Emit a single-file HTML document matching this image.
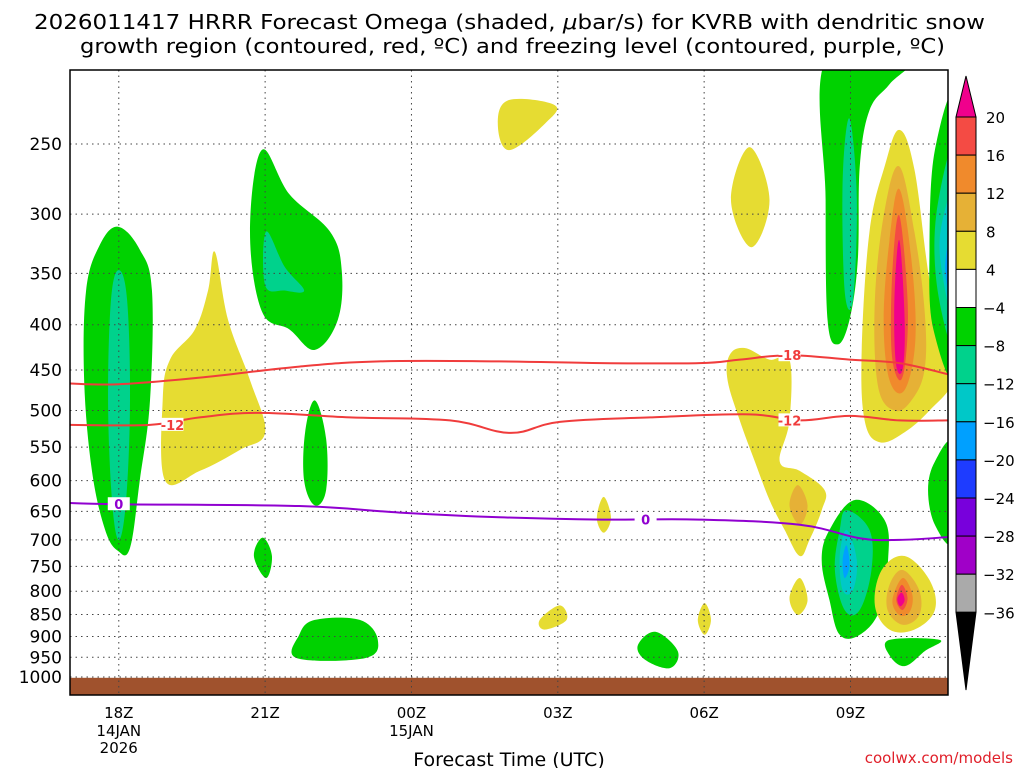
<!DOCTYPE html>
<html><head><meta charset="utf-8"><style>
body{margin:0;background:#fff;width:1024px;height:768px;overflow:hidden;font-family:"DejaVu Sans","Liberation Sans",sans-serif}
svg text{font-family:"DejaVu Sans","Liberation Sans",sans-serif}
</style></head><body>
<svg id="c" width="1024" height="768">
<text x="34" y="29" font-size="20" textLength="951" lengthAdjust="spacingAndGlyphs">2026011417 HRRR Forecast Omega (shaded, <tspan font-style="italic">μ</tspan>bar/s) for KVRB with dendritic snow</text>
<text x="80" y="53" font-size="20" textLength="865" lengthAdjust="spacingAndGlyphs">growth region (contoured, red, ºC) and freezing level (contoured, purple, ºC)</text>
<defs><clipPath id="pc"><rect x="70" y="70" width="878" height="625"/></clipPath></defs>
<g id="plot" clip-path="url(#pc)"></g>
<g id="axes"></g>
<g id="cbar"></g>
<text x="509" y="766" text-anchor="middle" font-size="19">Forecast Time (UTC)</text>
<text x="1013" y="763" text-anchor="end" font-size="15" fill="#e0202a">coolwx.com/models</text>
</svg>
<script>
const pTicks=[250,300,350,400,450,500,550,600,650,700,750,800,850,900,950,1000];
const xTickHours=[18,21,24,27,30,33];
const xTickLabels=["18Z","21Z","00Z","03Z","06Z","09Z"];
const xTickSub=[["14JAN","2026"],[],["15JAN"],[],[],[]];
const cbLevels=["20","16","12","8","4","−4","−8","−12","−16","−20","−24","−28","−32","−36"];
const cbColors=["#f44b44","#f08a2c","#e6b136","#e6dc32","#ffffff","#00d200","#00d28c","#00c8c8","#00a0ff","#1e3cff","#7800dc","#a000c8","#aaaaaa"];
function colorFor(v){
 if(v>=20)return "#f0008c"; const i=[16,12,8,4,-4,-8,-12,-16,-20,-24,-28,-32,-36].findIndex(t=>v>=t); return cbColors[i<0?12:i];}
const blobs=[
[-6,[[17.98,310],[18.43,329],[18.68,366],[18.64,487],[18.43,600],[18.23,715],[17.98,720],[17.72,682],[17.45,585],[17.29,462],[17.33,366],[17.6,326]]],
[-10,[[18.0,347],[18.17,375],[18.23,487],[18.15,631],[18.0,700],[17.86,631],[17.78,487],[17.84,375]]],
[6,[[19.97,331],[20.24,395],[20.69,462],[21.0,529],[20.48,554],[19.66,585],[18.95,600],[18.9,487],[19.05,438],[19.56,405],[19.83,366]]],
[-6,[[20.93,254],[21.5,285],[22.33,314],[22.57,347],[22.49,395],[22.02,427],[21.5,405],[20.93,386],[20.69,314]]],
[-10,[[21.02,314],[21.4,344],[21.8,366],[21.4,366],[21.0,361]]],
[-6,[[22.02,487],[22.25,538],[22.25,615],[22.02,640],[21.8,600],[21.82,529]]],
[-6,[[20.95,696],[21.14,730],[21.02,773],[20.77,730]]],
[-6,[[22.02,862],[22.94,862],[23.31,908],[23.05,952],[21.65,952],[21.7,896]]],
[6,[[26.0,223],[26.94,226],[26.74,237],[26.0,254],[25.77,237]]],
[6,[[27.94,626],[28.09,661],[27.94,687],[27.8,661]]],
[6,[[27.04,830],[27.18,862],[26.73,884],[26.63,862]]],
[6,[[30.01,825],[30.14,862],[30.01,896],[29.87,862]]],
[-6,[[29.0,889],[29.46,935],[29.3,977],[28.8,957],[28.64,921]]],
[6,[[30.93,252],[31.34,289],[30.97,327],[30.55,289]]],
[6,[[30.83,425],[31.34,438],[31.75,438],[31.75,513],[31.55,571],[31.96,585],[32.47,615],[32.41,648],[32.16,700],[31.96,730],[31.65,682],[31.34,631],[31.04,571],[30.73,513],[30.48,462],[30.52,433]]],
[10,[[31.92,607],[32.12,640],[31.96,673],[31.75,640]]],
[6,[[31.96,773],[32.12,819],[31.92,851],[31.75,814]]],
[-6,[[32.51,200],[34.21,200],[33.8,214],[33.39,229],[33.19,265],[33.15,338],[32.98,395],[32.74,421],[32.53,395],[32.49,289]]],
[-10,[[32.98,234],[33.13,289],[33.05,375],[32.88,366],[32.84,274]]],
[6,[[34.0,241],[34.31,267],[34.62,356],[34.93,416],[35.1,462],[34.62,500],[34.11,529],[33.6,543],[33.29,513],[33.23,427],[33.39,314],[33.7,265]]],
[10,[[34.0,265],[34.31,314],[34.52,386],[34.52,449],[34.25,487],[33.9,500],[33.56,468],[33.5,375],[33.7,297]]],
[14,[[34.0,281],[34.25,338],[34.33,416],[34.11,474],[33.8,462],[33.68,395],[33.8,321]]],
[18,[[34.0,301],[34.17,375],[34.13,438],[34.0,462],[33.84,427],[33.86,347]]],
[22,[[34.0,321],[34.11,395],[34.07,449],[33.93,442],[33.9,375]]],
[-6,[[35.2,225],[35.2,445],[34.7,405],[34.62,329],[34.73,254]]],
[-10,[[35.2,250],[35.2,420],[34.8,370],[34.76,300]]],
[-14,[[35.2,280],[35.2,405],[34.88,350],[34.86,310]]],
[-18,[[35.2,300],[35.2,390],[34.94,345]]],
[-6,[[35.1,547],[35.1,700],[34.73,673],[34.59,615],[34.73,571]]],
[-6,[[33.09,631],[33.7,665],[33.77,738],[33.6,840],[33.19,896],[32.78,896],[32.57,819],[32.41,738],[32.57,682]]],
[-10,[[32.92,648],[33.39,682],[33.43,757],[33.19,840],[32.88,840],[32.68,757],[32.78,682]]],
[-14,[[32.92,682],[33.13,738],[33.05,798],[32.84,798],[32.78,730]]],
[-18,[[32.92,710],[32.98,748],[32.88,773],[32.84,738]]],
[6,[[34.11,730],[34.62,777],[34.73,840],[34.31,884],[33.8,884],[33.5,830],[33.64,757]]],
[10,[[34.07,757],[34.41,798],[34.41,851],[34.07,873],[33.76,840],[33.8,787]]],
[14,[[34.07,773],[34.27,808],[34.21,845],[34.0,851],[33.86,819]]],
[18,[[34.05,787],[34.17,814],[34.07,840],[33.94,819]]],
[22,[[34.05,803],[34.11,819],[34.02,832],[33.96,816]]],
[-6,[[33.8,908],[34.83,908],[34.52,935],[34.11,972],[33.8,945]]]
];
const c18h=[17,18,19.66,21.7,23.35,25.8,27.9,29.9,30.73,31.75,32.98,34.0,35];
const c18p=[466,467,459,446,440,440,442,442,438,433,438,442,455];
const c12h=[17,18.64,19.66,20.89,22.74,24.79,26.02,27.04,28.89,30.93,31.96,32.98,34.0,35];
const c12p=[519,519,509,503,509,513,530,515,509,505,513,507,513,513];
const c0h=[17,18,21.7,23.76,25.8,27.9,29.9,31.96,33.19,34.0,35];
const c0p=[636,638,641,652,660,664,664,673,697,700,695];

const NS="http://www.w3.org/2000/svg";
const X=h=>70+(h-17)*48.78;
const Y=p=>144+384.5*Math.log(p/250);
function mk(tag,attrs,parent){const e=document.createElementNS(NS,tag);for(const k in attrs)e.setAttribute(k,attrs[k]);parent.appendChild(e);return e;}
function closedSpline(pts){const n=pts.length;let d=`M${pts[0][0]},${pts[0][1]}`;
 for(let i=0;i<n;i++){const p0=pts[(i-1+n)%n],p1=pts[i],p2=pts[(i+1)%n],p3=pts[(i+2)%n];
 const t=0.18;d+=`C${p1[0]+(p2[0]-p0[0])*t},${p1[1]+(p2[1]-p0[1])*t} ${p2[0]-(p3[0]-p1[0])*t},${p2[1]-(p3[1]-p1[1])*t} ${p2[0]},${p2[1]}`;}
 return d+"Z";}
function openSpline(pts){let d=`M${pts[0][0]},${pts[0][1]}`;const n=pts.length;
 for(let i=0;i<n-1;i++){const p0=pts[Math.max(i-1,0)],p1=pts[i],p2=pts[i+1],p3=pts[Math.min(i+2,n-1)];const t=0.18;
 d+=`C${p1[0]+(p2[0]-p0[0])*t},${p1[1]+(p2[1]-p0[1])*t} ${p2[0]-(p3[0]-p1[0])*t},${p2[1]-(p3[1]-p1[1])*t} ${p2[0]},${p2[1]}`;}return d;}
const plot=document.getElementById('plot'),axes=document.getElementById('axes'),cbar=document.getElementById('cbar');
blobs.forEach((b,i)=>{const pts=b[1].map(q=>[X(q[0]),Y(q[1])]);
 const e=mk('path',{d:closedSpline(pts),fill:colorFor(b[0])},plot);
 
 });
const g=mk('rect',{x:70,y:Y(1002),width:878,height:695-Y(1002),fill:'#a0522d'},plot);


pTicks.forEach(p=>{const l=mk('line',{x1:70,x2:948,y1:Y(p),y2:Y(p),stroke:'#444','stroke-width':1,'stroke-dasharray':'1.5 4'},plot);
 
 
 const t=mk('text',{x:62,y:Y(p)+6,'text-anchor':'end','font-size':17},axes);t.textContent=p;
 
 });
xTickHours.forEach((h,i)=>{const l=mk('line',{x1:X(h),x2:X(h),y1:70,y2:695,stroke:'#444','stroke-width':1,'stroke-dasharray':'1.5 4'},plot);
 
 
 const t=mk('text',{x:X(h),y:718,'text-anchor':'middle','font-size':15},axes);t.textContent=xTickLabels[i];
 
 
 xTickSub[i].forEach((s,j)=>{const u=mk('text',{x:X(h),y:736+j*17,'text-anchor':'middle','font-size':15},axes);u.textContent=s;
 
 });});
function contour(hs,ps,color,name){const pts=hs.map((h,i)=>[X(h),Y(ps[i])]);
 const e=mk('path',{d:openSpline(pts),fill:'none',stroke:color,'stroke-width':2},plot);
 
 }
contour(c18h,c18p,'#f03c3c','contour-minus18');
contour(c12h,c12p,'#f03c3c','contour-minus12');
contour(c0h,c0p,'#9000d0','freezing-level-contour');
function clabel(h,p,txt,color){const x=X(h),y=Y(p);
 mk('rect',{x:x-11,y:y-7,width:22,height:13,fill:'#fff'},plot);
 const t=mk('text',{x:x,y:y+5,'text-anchor':'middle','font-size':13,'font-weight':'bold',fill:color},plot);t.textContent=txt;
 
 }
clabel(19.1,519,'-12','#f03c3c');clabel(31.75,433,'-18','#f03c3c');clabel(31.75,513,'-12','#f03c3c');
clabel(18.0,638,'0','#9000d0');clabel(28.8,664,'0','#9000d0');
mk('rect',{x:70,y:70,width:878,height:625,fill:'none',stroke:'#000','stroke-width':1.5},axes);
const cx=956,cw=20,ct=117,sh=38.1;
mk('polygon',{points:`${cx},${ct} ${cx+cw},${ct} ${cx+cw/2},76`,fill:'#f0008c',stroke:'#000'},cbar);
cbColors.forEach((col,i)=>{mk('rect',{x:cx,y:ct+i*sh,width:cw,height:sh,fill:col,stroke:'#000','stroke-width':1},cbar);});
const cb=ct+13*sh;
mk('polygon',{points:`${cx},${cb} ${cx+cw},${cb} ${cx+cw/2},690`,fill:'#000',stroke:'#000'},cbar);
cbLevels.forEach((s,i)=>{const t=mk('text',{x:s.startsWith('−')?983:986,y:ct+i*sh+6,'font-size':15},cbar);t.textContent=s;
 
 });
</script>
</body></html>
